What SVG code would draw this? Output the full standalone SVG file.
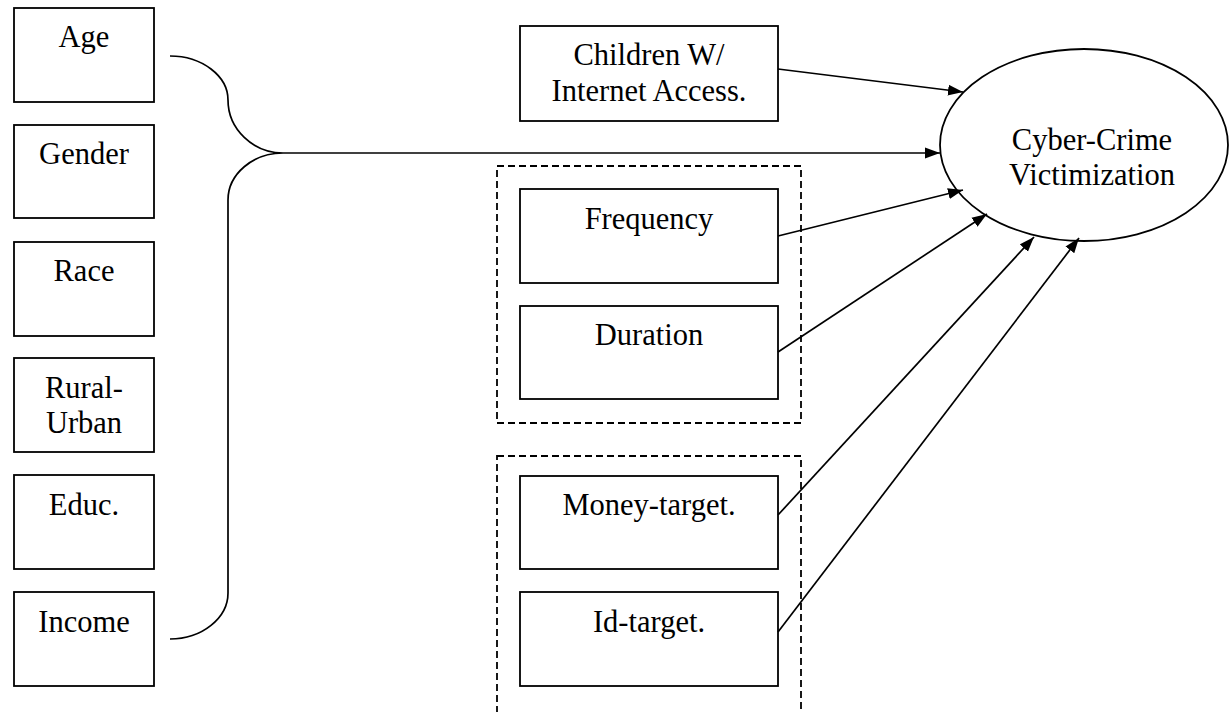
<svg xmlns="http://www.w3.org/2000/svg" width="1229" height="712" viewBox="0 0 1229 712">
<style>
.box{fill:#fff;stroke:#000;stroke-width:1.8}
.grp{fill:none;stroke:#000;stroke-width:1.8;stroke-dasharray:7 4}
.lbl{font-family:"Liberation Serif","Times New Roman",serif;font-size:30.5px;fill:#000;text-anchor:middle}
.con{fill:none;stroke:#000;stroke-width:1.7}
</style>
<defs>
<marker id="ah" markerWidth="16" markerHeight="12" refX="15" refY="6" orient="auto" markerUnits="userSpaceOnUse">
<path d="M0,0.5 L15,6 L0,11.5 Z" fill="#000"/>
</marker>
</defs>
<rect width="1229" height="712" fill="#fff"/>
<rect id="group-usage" class="grp" x="497" y="166" width="304" height="257"/>
<rect id="group-target" class="grp" x="497" y="456" width="304" height="270"/>
<g id="age"><rect class="box" x="14" y="8" width="140" height="94"/><text class="lbl" x="84" y="47">Age</text></g>
<g id="gender"><rect class="box" x="14" y="125" width="140" height="93"/><text class="lbl" x="84" y="164">Gender</text></g>
<g id="race"><rect class="box" x="14" y="242" width="140" height="94"/><text class="lbl" x="84" y="281">Race</text></g>
<g id="rural-urban"><rect class="box" x="14" y="358" width="140" height="94"/><text class="lbl" x="84" y="398">Rural-</text><text class="lbl" x="84" y="433">Urban</text></g>
<g id="educ"><rect class="box" x="14" y="475" width="140" height="94"/><text class="lbl" x="84" y="515">Educ.</text></g>
<g id="income"><rect class="box" x="14" y="592" width="140" height="94"/><text class="lbl" x="84" y="632">Income</text></g>
<g id="children"><rect class="box" x="520" y="26" width="258" height="95"/><text class="lbl" x="649" y="65">Children W/</text><text class="lbl" x="649" y="101">Internet Access.</text></g>
<g id="frequency"><rect class="box" x="520" y="189" width="258" height="94"/><text class="lbl" x="649" y="229">Frequency</text></g>
<g id="duration"><rect class="box" x="520" y="306" width="258" height="93"/><text class="lbl" x="649" y="345">Duration</text></g>
<g id="money-target"><rect class="box" x="520" y="476" width="258" height="93"/><text class="lbl" x="649" y="515">Money-target.</text></g>
<g id="id-target"><rect class="box" x="520" y="592" width="258" height="94"/><text class="lbl" x="649" y="632">Id-target.</text></g>
<g id="victimization"><ellipse class="box" cx="1084" cy="145" rx="144" ry="96"/><text class="lbl" x="1092" y="150">Cyber-Crime</text><text class="lbl" x="1092" y="185">Victimization</text></g>
<g id="connectors">
<path class="con" d="M170,56 C202,56 228,76 228,100 C228,129 253,153 283,153 C253,153 228,174 228,200 L228,593 C228,618 202,639 170,639"/>
<line class="con" x1="283" y1="153" x2="940" y2="153" marker-end="url(#ah)"/>
<line class="con" x1="778" y1="69" x2="963" y2="92" marker-end="url(#ah)"/>
<line class="con" x1="778" y1="236" x2="963" y2="190" marker-end="url(#ah)"/>
<line class="con" x1="778" y1="352" x2="987" y2="214" marker-end="url(#ah)"/>
<line class="con" x1="778" y1="515" x2="1034" y2="237" marker-end="url(#ah)"/>
<line class="con" x1="778" y1="632" x2="1079" y2="238" marker-end="url(#ah)"/>
</g>
</svg>
